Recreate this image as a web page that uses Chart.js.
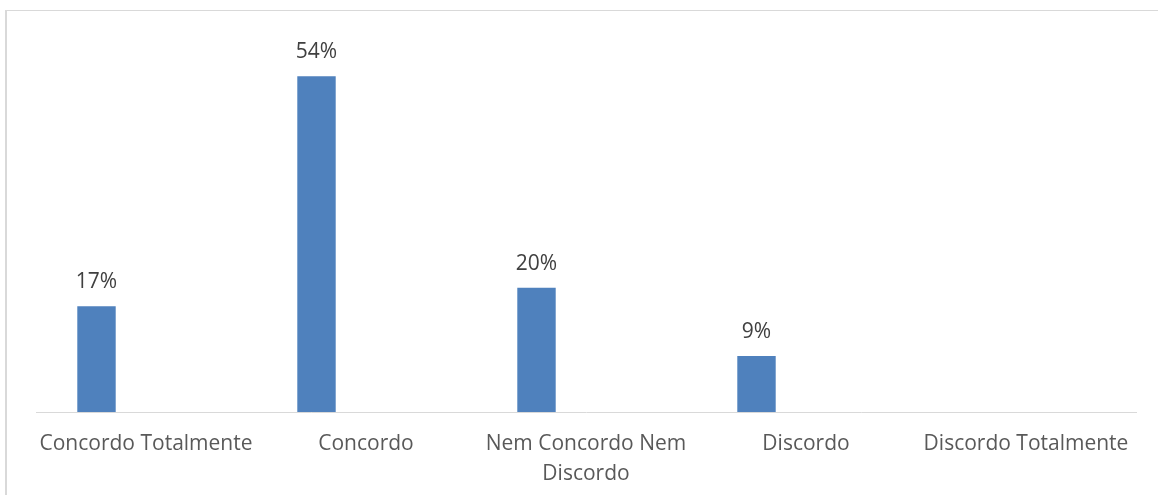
<!DOCTYPE html>
<html lang="pt">
<head>
<meta charset="utf-8">
<title>Concordância</title>
<script src="https://cdn.jsdelivr.net/npm/chart.js@4.4.1/dist/chart.umd.min.js"></script>
<style>
  html, body { margin: 0; padding: 0; background: #ffffff; }
  #wrap { position: relative; width: 1158px; height: 495px; overflow: hidden; background: #ffffff; }
  #frame {
    position: absolute; left: 5px; top: 10px; width: 1170px; height: 500px;
    border-left: 2px solid #d9d9d9; border-top: 1px solid #d9d9d9; box-sizing: border-box;
  }
  #chart { position: absolute; left: 0; top: 0; }
</style>
</head>
<body>
<div id="wrap">
  <div id="frame"></div>
  <canvas id="chart" width="1158" height="495"></canvas>
</div>
<script>
// Answer categories (multi-line labels are arrays)
const categories = [
  'Concordo Totalmente',
  'Concordo',
  ['Nem Concordo Nem', 'Discordo'],
  'Discordo',
  'Discordo Totalmente'
];

// Share of answers, in percent (no answers for the last category)
const percentages = [17, 54, 20, 9, null];

// Second, empty series kept in the group so the bars sit in the left half of each category
const emptySeries = [null, null, null, null, null];

const yTicks = { min: 0, max: 60 };

// Writes the percentage above each bar
const valueLabels = {
  id: 'valueLabels',
  afterDatasetsDraw(chart) {
    const ctx = chart.ctx;
    const meta = chart.getDatasetMeta(0);
    ctx.save();
    ctx.font = '21px "Open Sans"';
    ctx.fillStyle = '#404040';
    ctx.textAlign = 'center';
    ctx.textBaseline = 'alphabetic';
    meta.data.forEach((bar, i) => {
      const v = chart.data.datasets[0].data[i];
      if (v === null || v === undefined) return;
      ctx.fillText(v + '%', bar.x, bar.y - 18);
    });
    ctx.restore();
  }
};

new Chart(document.getElementById('chart'), {
  type: 'bar',
  data: {
    labels: categories,
    datasets: [
      {
        label: 'Respostas',
        data: percentages,
        backgroundColor: '#4f81bd',
        borderWidth: 0,
        categoryPercentage: 0.9,
        barPercentage: 0.388
      },
      {
        label: '',
        data: emptySeries,
        backgroundColor: '#c0504d',
        borderWidth: 0,
        categoryPercentage: 0.9,
        barPercentage: 0.388
      }
    ]
  },
  options: {
    responsive: false,
    animation: false,
    layout: { padding: { left: 36, right: 22, top: 39, bottom: 0 } },
    plugins: {
      legend: { display: false },
      tooltip: { enabled: false }
    },
    scales: {
      x: {
        grid: { display: false, drawTicks: false },
        border: { display: true, color: '#d9d9d9', width: 1 },
        ticks: {
          color: '#595959',
          font: { family: '"Open Sans"', size: 21, lineHeight: 1.42 },
          padding: 17,
          maxRotation: 0,
          autoSkip: false
        },
        // fixed band below the axis line for the category labels
        afterFit(scale) { scale.height = 83; }
      },
      y: {
        display: false,
        min: yTicks.min,
        max: yTicks.max
      }
    }
  },
  plugins: [valueLabels]
});
</script>
</body>
</html>
